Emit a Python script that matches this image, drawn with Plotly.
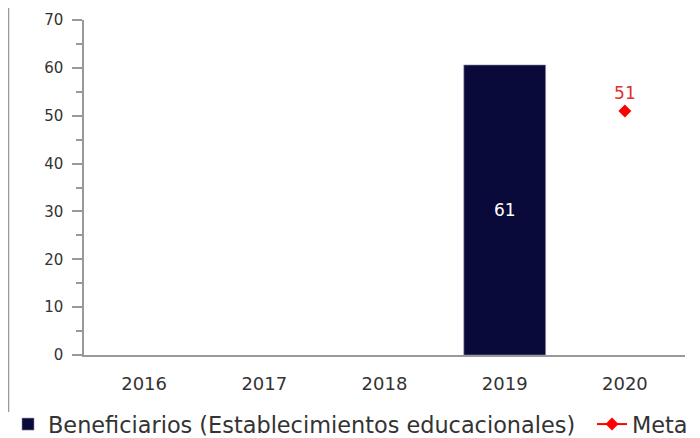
import plotly.graph_objects as go

years = ["2016", "2017", "2018", "2019", "2020"]
beneficiarios = [None, None, None, 60.6, None]
beneficiarios_labels = ["", "", "", "61", ""]
meta = [None, None, None, None, 51]
meta_labels = ["", "", "", "", "51"]

FONT = "DejaVu Sans"

fig = go.Figure()
fig.add_trace(go.Bar(
    x=years, y=beneficiarios, name="Beneficiarios (Establecimientos educacionales)",
    marker=dict(color="#0a0a3a", line=dict(color="#8a8aa8", width=0.6)),
    text=beneficiarios_labels, textposition="inside", insidetextanchor="middle",
    textfont=dict(color="white", size=17, family=FONT),
    width=0.68, legend="legend",
))
fig.add_trace(go.Scatter(
    x=years, y=meta, name="Meta", mode="lines+markers+text",
    line=dict(color="red", width=2),
    marker=dict(symbol="diamond", size=10, color="red"),
    text=meta_labels, textposition="top center",
    textfont=dict(color="#e03030", size=17, family=FONT),
    legend="legend2",
))

# the page places the figure 8px from the top-left corner of the window
fig.update_layout(
    width=700, height=438,
    margin=dict(l=76, r=23, t=12, b=91),
    plot_bgcolor="white", paper_bgcolor="white",
    font=dict(family=FONT, color="#333"),
    showlegend=True,
    legend=dict(orientation="h", xref="container", yref="container",
                x=-8 / 700, y=-2 / 438, xanchor="left", yanchor="bottom",
                font=dict(size=22.4, color="#333"), itemwidth=30,
                bgcolor="rgba(0,0,0,0)"),
    legend2=dict(orientation="h", xref="container", yref="container",
                 x=584 / 700, y=-2 / 438, xanchor="left", yanchor="bottom",
                 font=dict(size=22.4, color="#333"), itemwidth=30,
                 bgcolor="rgba(0,0,0,0)"),
    bargap=0.32,
    shapes=[dict(type="line", xref="paper", yref="paper", x0=-75.5 / 601, x1=-75.5 / 601,
                 y0=-0.17, y1=1.2, line=dict(color="#999", width=1.5))],
)
fig.update_xaxes(
    type="category", showline=True, linecolor="#999", linewidth=1.5,
    ticks="", tickfont=dict(size=18, color="#333"), showgrid=False,
    ticklabelstandoff=12, automargin=False,
)
fig.update_yaxes(
    range=[0, 70], dtick=10, showline=True, linecolor="#999", linewidth=1.5,
    ticks="outside", ticklen=10, tickcolor="#999", tickwidth=1.5,
    minor=dict(dtick=5, ticks="outside", ticklen=6, tickcolor="#999", tickwidth=1.5),
    tickfont=dict(size=15, color="#333"), showgrid=False, zeroline=False,
    ticklabelstandoff=6, automargin=False,
)

fig.write_html("out.html")
